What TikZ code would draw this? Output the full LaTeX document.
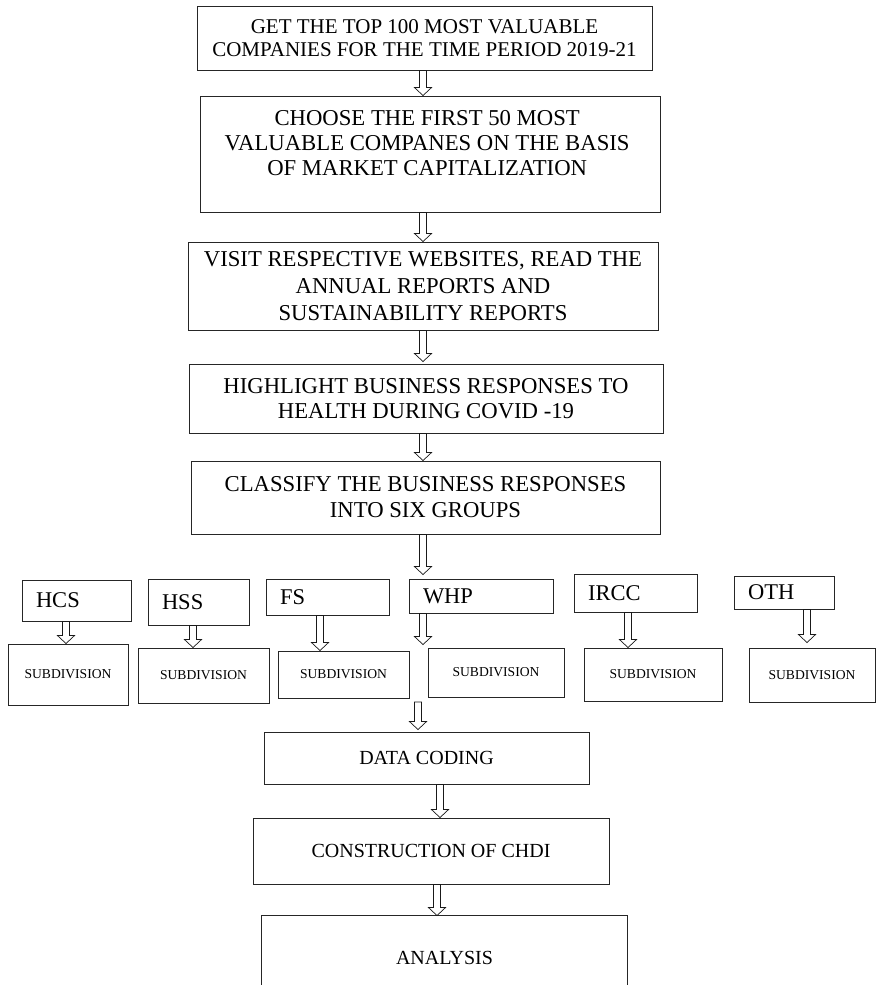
\documentclass[tikz,border=0pt]{standalone}
\usepackage{fontspec}
\setmainfont{Liberation Serif}
\usetikzlibrary{calc}

\tikzset{
  stage/.style={draw=black!85, line width=0.9pt, inner sep=0pt, align=center,
    font=\fontsize{22.7}{26}\selectfont},
  group/.style={draw=black!85, line width=0.9pt, inner xsep=14pt, inner ysep=0pt,
    align=left, font=\fontsize{22.5}{24}\selectfont},
  subbox/.style={draw=black!85, line width=0.9pt, inner sep=0pt,
    font=\fontsize{13.6}{15}\selectfont},
  lower/.style={draw=black!85, line width=0.9pt, inner sep=0pt,
    font=\fontsize{20}{22}\selectfont},
  hollow/.style={draw=black!90, line width=0.7pt, to path={
    let \p1=(\tikztostart), \p2=(\tikztotarget) in
    (\x1-3.5pt,\y1) -- (\x1-3.5pt,\y2+8pt) -- (\x1-8.5pt,\y2+8pt) -- (\x1,\y2)
    -- (\x1+8.5pt,\y2+8pt) -- (\x1+3.5pt,\y2+8pt) -- (\x1+3.5pt,\y1) -- cycle}}
}

\begin{document}
\begin{tikzpicture}[x=1pt,y=-1pt]
\useasboundingbox (0,0) rectangle (876,985);

% main column
\node[stage, font=\fontsize{21}{23.5}\selectfont, minimum width=455pt, minimum height=64pt] (get) at (424.5,38)
  {GET THE TOP 100 MOST VALUABLE\\COMPANIES FOR THE TIME PERIOD 2019-21};
\node[stage, minimum width=460pt, minimum height=116pt] (choose) at (430,154) {
\fontsize{22.7}{25}\selectfont
\begin{tabular}{c}
CHOOSE THE FIRST 50 MOST \\
VALUABLE COMPANES ON THE BASIS \\
OF MARKET CAPITALIZATION \\[18pt]
\end{tabular}
};
\node[stage, font=\fontsize{22.7}{27}\selectfont, minimum width=470pt, minimum height=88pt] (visit) at (423,286)
  {VISIT RESPECTIVE WEBSITES, READ THE\\ANNUAL REPORTS AND\\SUSTAINABILITY REPORTS};
\node[stage, font=\fontsize{22.7}{25}\selectfont, minimum width=474pt, minimum height=69pt] (highlight) at (426,398.5)
  {HIGHLIGHT BUSINESS RESPONSES TO\\HEALTH DURING COVID -19};
\node[stage, minimum width=469pt, minimum height=73pt] (classify) at (425.5,497.5)
  {CLASSIFY THE BUSINESS RESPONSES\\INTO SIX GROUPS};

% six groups
\node[group, text width=81pt, minimum height=41pt] (hcs) at (76.5,600.5) {HCS};
\node[group, text width=73pt, minimum height=46pt] (hss) at (198.5,602) {HSS};
\node[group, text width=95pt, minimum height=36pt] (fs) at (327.5,597) {FS};
\node[group, text width=116pt, minimum height=34pt] (whp) at (481,596) {WHP};
\node[group, text width=95pt, minimum height=38pt] (ircc) at (635.5,593) {IRCC};
\node[group, text width=72pt, minimum height=33pt] (oth) at (784,592.5) {OTH};

\node[subbox, minimum width=120pt, minimum height=61pt] (sub1) at (68,674.5) {SUBDIVISION};
\node[subbox, minimum width=131pt, minimum height=55pt] (sub2) at (203.5,675.5) {SUBDIVISION};
\node[subbox, minimum width=131pt, minimum height=47pt] (sub3) at (343.5,674.5) {SUBDIVISION};
\node[subbox, minimum width=136pt, minimum height=49pt] (sub4) at (496,672.5) {SUBDIVISION};
\node[subbox, minimum width=138pt, minimum height=53pt] (sub5) at (653,674.5) {SUBDIVISION};
\node[subbox, minimum width=126pt, minimum height=54pt] (sub6) at (812,675) {SUBDIVISION};

% last steps
\coordinate (join) at (418,702);
\node[lower, minimum width=325pt, minimum height=52pt] (coding) at (426.5,758) {DATA CODING};
\node[lower, minimum width=356pt, minimum height=66pt] (chdi) at (431,851) {CONSTRUCTION OF CHDI};
\node[lower, draw=none, text height=27pt, text depth=0pt, minimum width=365pt, minimum height=69pt] (analysis) at (444.5,950.5) {ANALYSIS};
\draw[draw=black!85, line width=0.9pt] (analysis.south west) |- (analysis.north east) -- (analysis.south east);

% arrows
\draw[hollow] ([xshift=-1.5pt]get.south) to (choose.north);
\draw[hollow] ([xshift=-7pt]choose.south) to (visit.north);
\draw[hollow] (visit.south) to ([yshift=2pt]highlight.north);
\draw[hollow] ([xshift=-3pt]highlight.south) to (classify.north);
\draw[hollow] ([xshift=-2.5pt]classify.south) to ([yshift=4pt]whp.north);

\draw[hollow] ([xshift=-10.5pt]hcs.south) to (sub1.north);
\draw[hollow] ([xshift=-5.5pt]hss.south) to (sub2.north);
\draw[hollow] ([xshift=-7.5pt]fs.south) to (sub3.north);
\draw[hollow] ([xshift=-58pt]whp.south) to ([yshift=3pt]sub4.north);
\draw[hollow] ([xshift=-7.5pt]ircc.south) to (sub5.north);
\draw[hollow] ([xshift=23pt]oth.south) to ([yshift=5pt]sub6.north);

\draw[hollow] (join) to ([yshift=2pt]coding.north);
\draw[hollow] ([xshift=13.5pt]coding.south) to (chdi.north);
\draw[hollow] ([xshift=6pt]chdi.south) to (analysis.north);
\end{tikzpicture}
\end{document}
